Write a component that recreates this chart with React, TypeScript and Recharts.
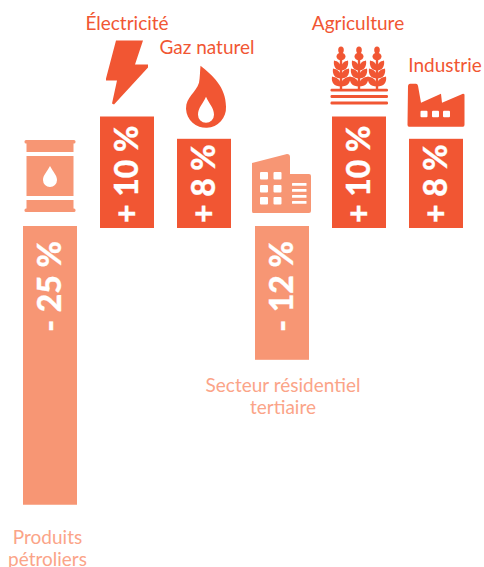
import { Bar, BarChart, LabelList, XAxis, YAxis } from "recharts"

const categories = ["Produits pétroliers", "Électricité", "Gaz naturel", "Secteur résidentiel tertiaire", "Agriculture", "Industrie"]
const changes = [-25, 10, 8, -12, 10, 8]
const valueLabels = ["- 25 %", "+ 10 %", "+ 8 %", "- 12 %", "+ 10 %", "+ 8 %"]

const DARK = "#f15633"
const LIGHT = "#f79674"
const LIGHT_TEXT = "#fba488"
const FONT = "Lato, sans-serif"

const data = categories.map((name, i) => ({ name, change: changes[i], label: valueLabels[i] }))

function Barrel({ c }: { c: string }) {
  return (
    <g fill={c}>
      <rect x={-25.5} y={-86} width={51} height={3.5} rx={1.5} />
      <rect x={-23.5} y={-86} width={47} height={12} />
      <rect x={-23.5} y={-70} width={47} height={40} />
      <rect x={-23.5} y={-26} width={47} height={12} />
      <rect x={-25.5} y={-17.5} width={51} height={3.5} rx={1.5} />
      <path d="M0 -60 C3 -54 7 -51 7 -46 A7 7 0 0 1 -7 -46 C-7 -51 -3 -54 0 -60 Z" fill="#fff" />
    </g>
  )
}

function Bolt({ c }: { c: string }) {
  return <path fill={c} d="M-11 -76 L16 -76 L8 -52 L21 -52 L21 -49 L-13 -12 L-15 -13 L-10 -36 L-21 -36 L-21 -38 Z" />
}

function Flame({ c }: { c: string }) {
  return (
    <g>
      <path fill={c} d="M-3.5 -73 C8 -64 22 -52 22 -32 A20 20 0 0 1 -18 -30 C-18 -42 -8 -46 -5 -56 C-4 -61 -4 -68 -3.5 -73 Z" />
      <path fill="#fff" d="M2 -42 C5 -35 10 -31 10 -24 A8 8 0 0 1 -6 -24 C-6 -31 -1 -35 2 -42 Z" />
    </g>
  )
}

function Building({ c }: { c: string }) {
  const cols = [-22, -8.5]
  const rows = [-54, -41, -29]
  const lines = [-43, -37, -31, -25]
  return (
    <g>
      <path fill={c} d="M-30 -63 L5 -72 Q8 -72 8 -69 L8 -52 L27 -52 Q29 -52 29 -50 L29 -15 Q29 -13 27 -13 L-29 -13 Q-30 -13 -30 -15 Z" />
      {cols.map((x) => rows.map((y) => <rect key={`${x}${y}`} x={x} y={y} width={8} height={7.5} rx={1} fill="#fff" />))}
      {lines.map((y) => <rect key={y} x={10} y={y} width={14.5} height={2.8} rx={0.5} fill="#fff" />)}
    </g>
  )
}

function Wheat({ c }: { c: string }) {
  const stalks = [-18, 0, 18]
  const leaves = [-54, -46, -38]
  return (
    <g fill={c}>
      {stalks.map((x) => (
        <g key={x} transform={`translate(${x} 0)`}>
          <rect x={-1.2} y={-60} width={2.4} height={33} />
          <ellipse cx={0} cy={-66.5} rx={2.8} ry={3.6} />
          <ellipse cx={0} cy={-60} rx={4.5} ry={3.8} />
          {leaves.map((y, i) => (
            <g key={y}>
              <path d={`M0 ${y + 8} C${-5 - i} ${y + 8} ${-8 - i} ${y + 4} ${-7 - i} ${y - 2} C${-3 - i} ${y - 1} 0 ${y} 0 ${y + 8} Z`} />
              <path d={`M0 ${y + 8} C${5 + i} ${y + 8} ${8 + i} ${y + 4} ${7 + i} ${y - 2} C${3 + i} ${y - 1} 0 ${y} 0 ${y + 8} Z`} />
            </g>
          ))}
        </g>
      ))}
      <rect x={-28.5} y={-27.7} width={57.5} height={2.7} rx={1.2} />
      <rect x={-28.5} y={-21.5} width={57.5} height={3} rx={1.2} />
      <rect x={-28.5} y={-15} width={57.5} height={3} rx={1.2} />
    </g>
  )
}

function Factory({ c }: { c: string }) {
  const windows = [-15.5, -4, 7]
  return (
    <g>
      <path fill={c} d="M-28 -53 Q-27.5 -55 -26 -55 L-20 -55 Q-18.5 -55 -18 -53 L-15 -36 L5 -45 L6 -36 L27 -45 Q28.5 -45 28.5 -44 L28.5 -14 Q28.5 -12 27 -12 L-27 -12 Q-28.5 -12 -28.5 -14 Z" />
      {windows.map((x) => <rect key={x} x={x} y={-28} width={7} height={6.5} rx={1} fill="#fff" />)}
    </g>
  )
}

const icons: Record<string, (p: { c: string }) => React.ReactElement> = {
  "Produits pétroliers": Barrel,
  "Électricité": Bolt,
  "Gaz naturel": Flame,
  "Secteur résidentiel tertiaire": Building,
  "Agriculture": Wheat,
  "Industrie": Factory,
}

// caption lines and their offset from the bar's top (or bottom for the negative ones)
const captions: Record<string, { lines: string[]; dx: number; dy: number }> = {
  "Produits pétroliers": { lines: ["Produits", "pétroliers"], dx: -2.5, dy: 39 },
  "Électricité": { lines: ["Électricité"], dx: 0, dy: -87 },
  "Gaz naturel": { lines: ["Gaz naturel"], dx: 3, dy: -85 },
  "Secteur résidentiel tertiaire": { lines: ["Secteur résidentiel", "tertiaire"], dx: 1, dy: 32 },
  "Agriculture": { lines: ["Agriculture"], dx: -1, dy: -87 },
  "Industrie": { lines: ["Industrie"], dx: 9, dy: -67 },
}

// positive bars sit 1px below the zero line, negative ones 1px above it
function ShiftedBar(props: any) {
  const { x, y, width, height, index } = props
  const neg = data[index].change < 0
  const top = Math.min(y, y + height)
  return <rect x={Math.round(x)} y={neg ? top - 1 : top + 1} width={width} height={Math.abs(height)} fill={neg ? LIGHT : DARK} />
}

function BarDecor(props: any) {
  const { x, y, width, height, index } = props
  const row = data[index]
  const neg = row.change < 0
  const cx = Math.round(x) + width / 2
  const c = neg ? LIGHT : DARK
  const top = Math.min(y, y + height) + (neg ? -1 : 1)
  const bottom = top + Math.abs(height)
  const Icon = icons[row.name]
  const cap = captions[row.name]
  const capY = neg ? bottom + cap.dy : top + cap.dy
  return (
    <g>
      <g transform={`translate(${cx} ${top})`}>
        <Icon c={c} />
      </g>
      <text
        transform={`translate(${cx + 11} ${neg ? top + 15 : bottom - 5}) rotate(-90)`}
        textAnchor={neg ? "end" : "start"}
        fill="#fff"
        fontFamily={FONT}
        fontWeight={900}
        fontSize={32}
        stroke="#fff"
        strokeWidth={0.3}
      >
        {row.label}
      </text>
      <text textAnchor="middle" fontFamily={FONT} fontSize={19} fill={neg ? LIGHT_TEXT : DARK}>
        {cap.lines.map((l, i) => (
          <tspan key={l} x={cx + cap.dx} y={capY + i * 22}>
            {l}
          </tspan>
        ))}
      </text>
    </g>
  )
}

export default function App() {
  return (
    <div style={{ position: "absolute", left: 0, top: 0 }}>
      <BarChart width={484} height={567} data={data} margin={{ top: 4, right: 9.6, bottom: 5.5, left: 11 }} barSize={54}>
        <XAxis dataKey="name" hide />
        <YAxis domain={[-30, 20]} hide />
        <Bar dataKey="change" isAnimationActive={false} shape={ShiftedBar}>
          <LabelList dataKey="change" content={BarDecor} />
        </Bar>
      </BarChart>
    </div>
  )
}
